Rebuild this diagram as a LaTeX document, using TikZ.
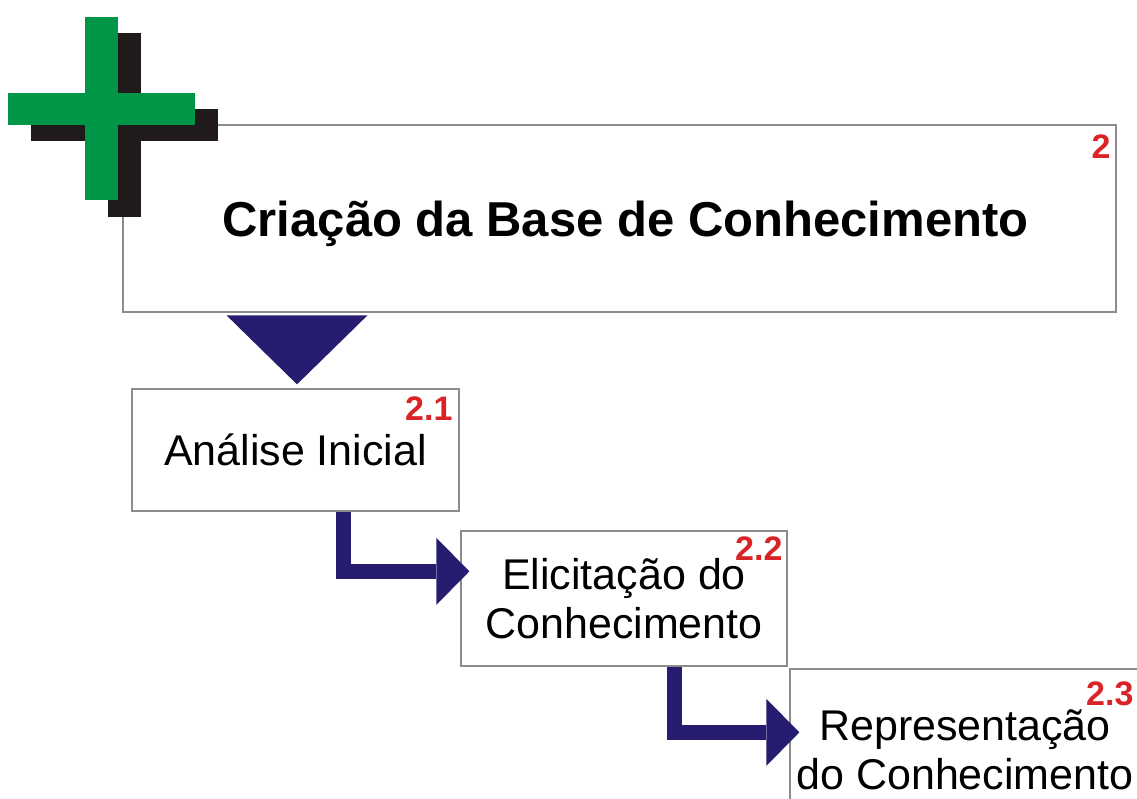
\documentclass[tikz,border=0pt]{standalone}
\usepackage{fontspec}
\setmainfont{Liberation Sans}
\usetikzlibrary{calc, arrows.meta}
\definecolor{azul}{RGB}{38,28,112}
\definecolor{verde}{RGB}{0,150,72}
\definecolor{sombra}{RGB}{33,26,26}
\definecolor{vermelho}{RGB}{218,35,38}

\begin{document}
\begin{tikzpicture}[x=1pt, y=-1pt,
		etapa/.style={draw=black!45, line width=1.3pt, fill=white, inner sep=0pt, align=center, font=\fontsize{43}{49}\selectfont},
		numero/.style={anchor=north east, inner sep=0pt, text=vermelho, font=\bfseries\fontsize{34}{34}\selectfont},
		seta/.style={azul, line width=14.5pt, -{Triangle[length=33pt, width=67pt, line width=0pt]}}]
			\useasboundingbox (0, 0) rectangle (1137, 798);
			\clip (0, 0) rectangle (1137, 798);
			\node[etapa, minimum width=993, minimum height=187, text depth=0pt, font=\bfseries\fontsize{49}{55}\selectfont] (base) at (619.5, 218.5) {\hspace*{12pt}Criação da Base de Conhecimento};
			\node[etapa, minimum width=327, minimum height=122] (analise) at (295.5, 450) {Análise Inicial};
			\node[etapa, minimum width=326, minimum height=135] (elicitacao) at (624, 598.5) {Elicitação do\\Conhecimento};
			\node[etapa, minimum width=350, minimum height=162] (representacao) at (965, 750) {Representação\\do Conhecimento};
			\node[numero] (n2) at ($(base.north east)+(-6, 10)$) {2};
			\node[numero] (n21) at ($(analise.north east)+(-7, 8)$) {2.1};
			\node[numero] (n22) at ($(elicitacao.north east)+(-5, 6)$) {2.2};
			\node[numero] (n23) at ($(representacao.north east)+(-7, 13)$) {2.3};
			\fill[azul] ($(analise.north)+(-69, -73)$) -- ($(analise.north)+(72, -73)$) -- ($(analise.north)+(1.5, -4)$) -- cycle;
			\draw[seta] ($(analise.south west)+(212, 0)$) |- ($(elicitacao.north west)+(9, 41)$);
			\draw[seta] ($(elicitacao.south west)+(214, 0)$) |- ($(representacao.north west)+(10, 64)$);
			\fill[sombra] (108, 33) rectangle (141, 217);
			\fill[sombra] (31, 109) rectangle (218, 141);
			\fill[verde] (85, 17) rectangle (118, 200);
			\fill[verde] (8, 93) rectangle (195, 125);
		\end{tikzpicture}
\end{document}
